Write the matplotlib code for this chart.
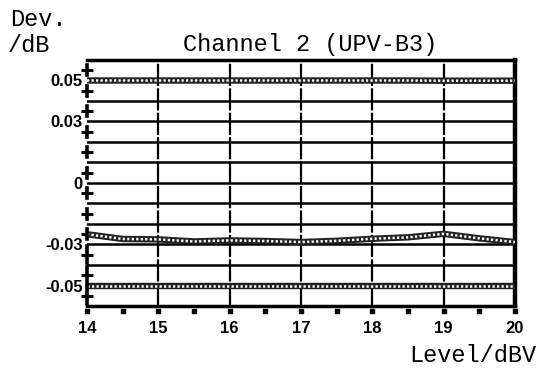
import numpy as np
import matplotlib.pyplot as plt
from matplotlib import transforms

# level sweep in dBV
level = [14, 14.5, 15, 15.5, 16, 16.5, 17, 17.5, 18, 18.5, 19, 19.5, 20]

# deviation curves in dB
upper_limit = [0.05, 0.05, 0.05, 0.05, 0.05, 0.05, 0.05, 0.05, 0.05, 0.05, 0.0499, 0.0499, 0.0499]
measured = [-0.0250, -0.0273, -0.0275, -0.0285, -0.0280, -0.0283, -0.0288,
            -0.0282, -0.0272, -0.0265, -0.0248, -0.0270, -0.0288]
lower_limit = [-0.05, -0.05, -0.05, -0.05, -0.05, -0.05, -0.05, -0.05, -0.05, -0.05, -0.05, -0.05, -0.05]

ytick_vals = [0.05, 0.03, 0, -0.03, -0.05]
ytick_text = ["0.05", "0.03", "0", "-0.03", "-0.05"]
xtick_vals = [14, 15, 16, 17, 18, 19, 20]

mono = "Liberation Mono"
sans = "Liberation Sans"
tick_font = dict(family=sans, fontweight="bold", fontsize=12)

fig = plt.figure(figsize=(5.41, 3.75), dpi=100)
ax = fig.add_axes([87 / 541, 1 - 306 / 375, 428 / 541, 246 / 375])
ax.set_xlim(14, 20)
ax.set_ylim(-0.06, 0.06)

# horizontal grid every 0.01, vertical grid every 1 dBV
for y in np.arange(-0.05, 0.055, 0.01):
    ax.axhline(y, color="black", lw=1.8, zorder=1)
for x in xtick_vals[1:-1]:
    ax.axvline(x, color="black", lw=1.6, ls=(0, (10, 1.0)), zorder=1)


def chain_line(xs, ys):
    ax.plot(xs, ys, color="#222222", lw=4.6, solid_capstyle="butt", zorder=3)
    ax.plot(xs, ys, color="white", lw=1.8, ls=(0, (0.9, 0.9)),
            dash_capstyle="butt", zorder=4)


chain_line(level, upper_limit)
chain_line(level, measured)
chain_line(level, lower_limit)

# frame
ax.spines["left"].set_visible(False)
ax.spines["top"].set_linewidth(2.5)
ax.spines["bottom"].set_linewidth(2.5)
ax.spines["right"].set_linewidth(3.2)

# left axis drawn as short pieces around the half-step ticks
half_steps = np.arange(-0.055, 0.06, 0.01)
for y in half_steps:
    h = 0.0025 if y > -0.03 else 0.0042
    ax.plot([14, 14], [y - h, y + h], color="black", lw=2.6, clip_on=False, zorder=5)

ax.set_yticks(ytick_vals)
ax.set_yticklabels(ytick_text, **tick_font)
ax.set_yticks(half_steps, minor=True)
ax.tick_params(axis="y", which="major", length=0, pad=3)
ax.tick_params(axis="y", which="minor", direction="inout", length=8, width=2.2)

ax.set_xticks(xtick_vals)
ax.set_xticklabels([str(v) for v in xtick_vals], **tick_font)
ax.tick_params(axis="x", which="major", length=0, pad=11)

# small dots under the x axis at every half step
trans = transforms.blended_transform_factory(ax.transData, ax.transAxes)
ax.scatter(level, [-0.022] * len(level), s=5, marker="s", color="black",
           transform=trans, clip_on=False, zorder=5)

fig.text(10 / 541, 1 - 20 / 375, "Dev.", family=mono, fontsize=17, va="center")
fig.text(8 / 541, 1 - 45 / 375, "/dB", family=mono, fontsize=17, va="center")
fig.text(310 / 541, 1 - 45 / 375, "Channel 2 (UPV-B3)", family=mono, fontsize=17,
         ha="center", va="center")
fig.text(536 / 541, 1 - 356 / 375, "Level/dBV", family=mono, fontsize=17,
         ha="right", va="center")

fig.savefig("out.png", dpi=100)
